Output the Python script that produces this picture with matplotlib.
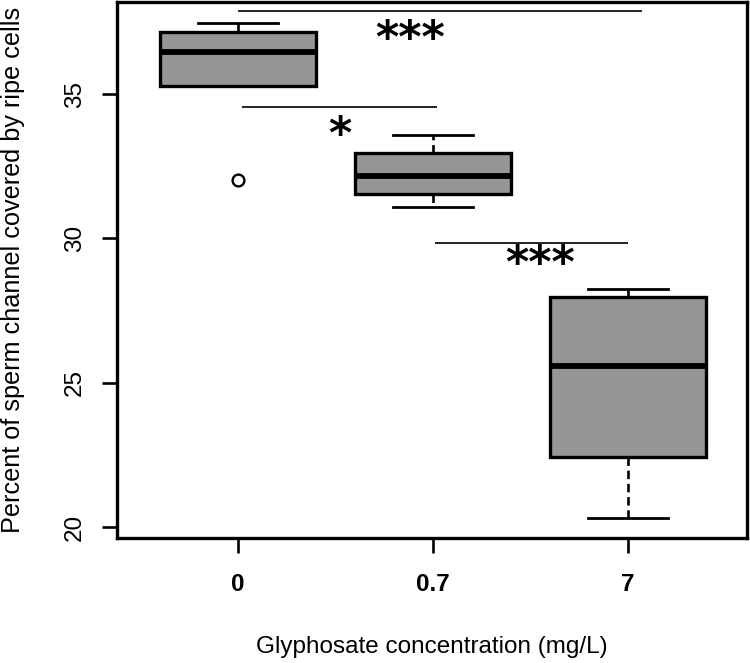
import matplotlib
matplotlib.use("Agg")
import matplotlib.pyplot as plt

plt.rcParams['font.family'] = ['Liberation Sans', 'DejaVu Sans']

# ---- data ----
categories = ["0", "0.7", "7"]
whisker_low = [35.28, 31.09, 20.31]
q1 = [35.28, 31.54, 22.43]
median = [36.45, 32.16, 25.58]
q3 = [37.15, 32.96, 27.97]
whisker_high = [37.46, 33.58, 28.25]
outliers = [[32.02], [], []]

y_ticks = [20, 25, 30, 35]

# significance brackets
sig_x_start = [1.0, 1.02, 2.01]
sig_x_end = [3.07, 2.02, 3.0]
sig_y = [37.87, 34.55, 29.84]
sig_text = ["***", "*", "***"]
sig_text_x = [1.88, 1.52, 2.55]
sig_text_y = [36.88, 33.57, 29.11]

x_label = "Glyphosate concentration (mg/L)"
y_label = "Percent of sperm channel covered by ripe cells"

# ---- figure ----
fig = plt.figure(figsize=(7.5, 6.63), dpi=100)
ax = fig.add_axes([117 / 750, 1 - 538 / 663, (747 - 117) / 750, (538 - 2) / 663])

stats = []
for i, c in enumerate(categories):
    stats.append(dict(label=c, whislo=whisker_low[i], q1=q1[i], med=median[i],
                      q3=q3[i], whishi=whisker_high[i], fliers=outliers[i]))

positions = list(range(1, len(categories) + 1))
ax.bxp(stats, positions=positions, widths=0.8, capwidths=0.41,
       patch_artist=True, showfliers=True,
       boxprops=dict(facecolor="#969696", edgecolor="black", linewidth=2.4),
       medianprops=dict(color="black", linewidth=4.2),
       whiskerprops=dict(color="black", linewidth=1.9, linestyle=(0, (3.2, 1.8))),
       capprops=dict(color="black", linewidth=2.0),
       flierprops=dict(marker="o", markerfacecolor="white", markeredgecolor="black",
                       markersize=8.5, markeredgewidth=1.7))

for xs, xe, y in zip(sig_x_start, sig_x_end, sig_y):
    ax.plot([xs, xe], [y, y], color="#111111", linewidth=1.3, solid_capstyle="butt")

for t, x, y in zip(sig_text, sig_text_x, sig_text_y):
    ax.text(x, y, t, ha="center", va="center", fontsize=32, fontweight="bold",
            family="DejaVu Sans", color="black")

ax.set_xlim(0.38, 3.61)
ax.set_ylim(19.62, 38.19)
ax.set_yticks(y_ticks)
ax.set_yticklabels([str(v) for v in y_ticks], rotation=90, va="center", fontsize=17.5)
ax.set_xticks(positions)
ax.set_xticklabels(categories, fontsize=17.5, fontweight="bold")

ax.tick_params(axis="both", direction="out", length=10.5, width=1.9, color="black")
ax.tick_params(axis="x", pad=15)
ax.tick_params(axis="y", pad=12)

for s in ax.spines.values():
    s.set_linewidth(2.4)
    s.set_color("black")

ax.set_xlabel(x_label, fontsize=17.5)
ax.xaxis.set_label_coords(0.5, -(647 - 538) / 536)
ax.xaxis.label.set_va("center")

fig.text(13 / 750, 1 - 270 / 663, y_label, rotation=90, ha="center", va="center",
         fontsize=18.2)

fig.savefig("out.png", dpi=100)
